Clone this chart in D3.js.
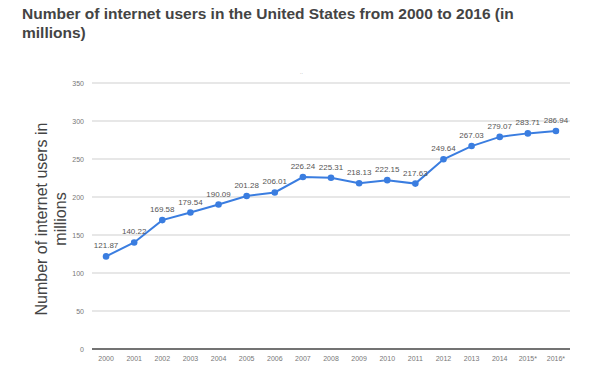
<!DOCTYPE html>
<html><head><meta charset="utf-8">
<script src="https://cdn.jsdelivr.net/npm/d3@7/dist/d3.min.js"></script>
<style>body{margin:0;background:#fff;}svg{display:block;}</style>
</head><body>
<svg id="c" width="600" height="376"></svg>
<script>
const years = ["2000","2001","2002","2003","2004","2005","2006","2007","2008","2009","2010","2011","2012","2013","2014","2015*","2016*"];
const users = [121.87,140.22,169.58,179.54,190.09,201.28,206.01,226.24,225.31,218.13,222.15,217.63,249.64,267.03,279.07,283.71,286.94];
const yTicks = [0,50,100,150,200,250,300,350];
const titleLines = ["Number of internet users in the United States from 2000 to 2016 (in","millions)"];
const yTitleLines = ["Number of internet users in","millions"];

const svg = d3.select("#c");
const x = d3.scaleBand().domain(years).range([92,570]);
const y = d3.scaleLinear().domain([0,350]).range([349,83]);

// title
svg.append("text").attr("font-family","Liberation Sans, Arial, sans-serif").attr("font-weight","bold")
  .attr("font-size",15.5).attr("fill","#444")
  .selectAll("tspan").data(titleLines).join("tspan")
  .attr("x",22).attr("y",(d,i)=>19+i*19).text(d=>d);

// gridlines
svg.append("g").selectAll("line").data(yTicks.filter(d=>d>0)).join("line")
  .attr("x1",92).attr("x2",570).attr("y1",d=>y(d)).attr("y2",d=>y(d))
  .attr("stroke","#cfcfcf").attr("stroke-width",1);
svg.append("line").attr("x1",92).attr("x2",570).attr("y1",y(0)).attr("y2",y(0))
  .attr("stroke","#444").attr("stroke-width",1.6);

// y axis labels
const yAxis = d3.axisLeft(y).tickValues(yTicks).tickSize(0).tickPadding(0);
const gy = svg.append("g").attr("transform","translate(84,0)").call(yAxis);
gy.select(".domain").remove();
gy.selectAll("text").attr("font-family","Liberation Sans, Arial, sans-serif").attr("font-size",7).attr("fill","#777");

// x axis labels
const xAxis = d3.axisBottom(x).tickSize(0).tickPadding(0);
const gx = svg.append("g").attr("transform","translate(0,356)").call(xAxis);
gx.select(".domain").remove();
gx.selectAll("text").attr("font-family","Liberation Sans, Arial, sans-serif").attr("font-size",7).attr("fill","#777");

// y title
svg.append("text").attr("transform","translate(0,219) rotate(-90)")
  .attr("font-family","Liberation Sans, Arial, sans-serif").attr("font-size",16).attr("fill","#444")
  .attr("text-anchor","middle")
  .selectAll("tspan").data(yTitleLines).join("tspan")
  .attr("x",0).attr("y",(d,i)=>47+i*19).text(d=>d);

// small mark
svg.append("text").attr("x",300).attr("y",74).attr("font-size",5).attr("fill","#999")
  .attr("font-family","Liberation Sans, Arial, sans-serif").text("..");

const cx = d => x(d) + x.bandwidth()/2;
const line = d3.line().x((d,i)=>cx(years[i])).y(d=>y(d));
svg.append("path").datum(users).attr("d",line).attr("fill","none")
  .attr("stroke","#3a7de0").attr("stroke-width",2);
svg.append("g").selectAll("circle").data(users).join("circle")
  .attr("cx",(d,i)=>cx(years[i])).attr("cy",d=>y(d)).attr("r",3.3).attr("fill","#3a7de0");
svg.append("g").selectAll("text").data(users).join("text")
  .attr("x",(d,i)=>cx(years[i])).attr("y",d=>y(d)-8)
  .attr("text-anchor","middle").attr("font-family","Liberation Sans, Arial, sans-serif")
  .attr("font-size",8).attr("fill","#555").text(d=>d.toFixed(2));
</script>
</body></html>
